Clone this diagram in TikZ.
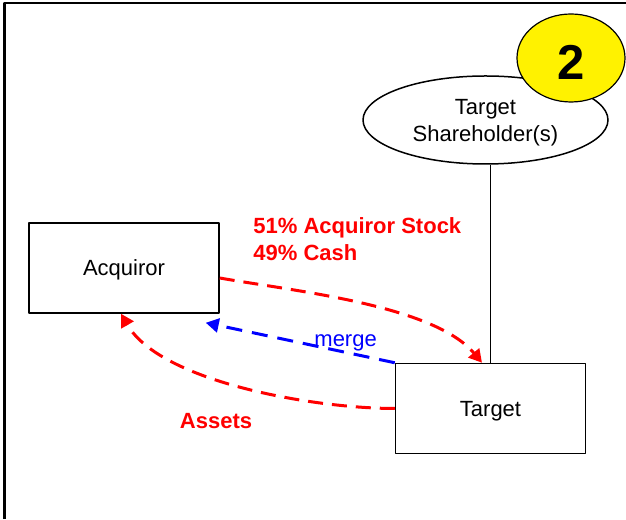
\documentclass[tikz,border=0pt]{standalone}
\usepackage{fontspec}
\setmainfont{Liberation Sans}
\usetikzlibrary{arrows.meta,shapes.geometric}
\tikzset{
  party/.style={draw, line width=0.75pt, minimum width=95pt, minimum height=45pt, inner sep=0pt, text depth=0pt},
  holder/.style={draw, ellipse, line width=0.75pt, minimum width=122.5pt, minimum height=44pt, inner sep=0pt, align=center, text depth=0pt},
  badge/.style={draw, ellipse, fill=yellow, line width=0.6pt, minimum width=54pt, minimum height=44pt, inner sep=0pt, text height=21.5pt, font=\fontsize{24.5}{26}\selectfont\bfseries},
  flow/.style={draw=red, line width=1.5pt, dash pattern=on 7.5pt off 4.5pt, -{Triangle[length=6.5pt,width=7pt]}},
  mergeflow/.style={draw=blue, line width=1.5pt, dash pattern=on 8pt off 5pt, -{Triangle[length=6.5pt,width=7pt]}},
  paylabel/.style={text=red, font=\fontsize{11}{13.5}\selectfont\bfseries, inner sep=0pt, align=left}
}
\begin{document}
\begin{tikzpicture}[x=0.5pt, y=0.5pt, font=\fontsize{11}{13.5}\selectfont, line join=round]
  \useasboundingbox (0,0) rectangle (626,519);
  % frame
  \draw[line width=1.25pt] (4.5,0) -- (4.5,516) -- (626,516);
  % parties
  \node[party] (acq) at (124,251) {Acquiror};
  \node[party] (tgt) at (490.5,110.5) {Target};
  \node[holder] (sh) at (485.5,399) {Target\\Shareholder(s)};
  \node[badge] (two) at (571,461) {2};
  \draw[line width=0.75pt] (tgt.north) -- (tgt.north |- sh.south);
  % consideration, assets and merger
  \draw[flow] ([yshift=-5pt]acq.east) to[out=-10, in=130, looseness=0.7] ([xshift=-4.25pt]tgt.north);
  \draw[flow] (tgt.west) to[out=180, in=-60, looseness=0.7] ([xshift=-1.5pt]acq.south);
  \draw[mergeflow] (tgt.north west) -- ([shift={(-7pt,-4.5pt)}]acq.south east)
    node[pos=0.26, above=0pt, inner sep=0pt, text=blue] (mrg) {merge};
  \node[paylabel, anchor=west] (pay) at (253,279.5) {51\% Acquiror Stock\\49\% Cash};
  \node[paylabel] (ast) at (216,98) {Assets};
\end{tikzpicture}
\end{document}
